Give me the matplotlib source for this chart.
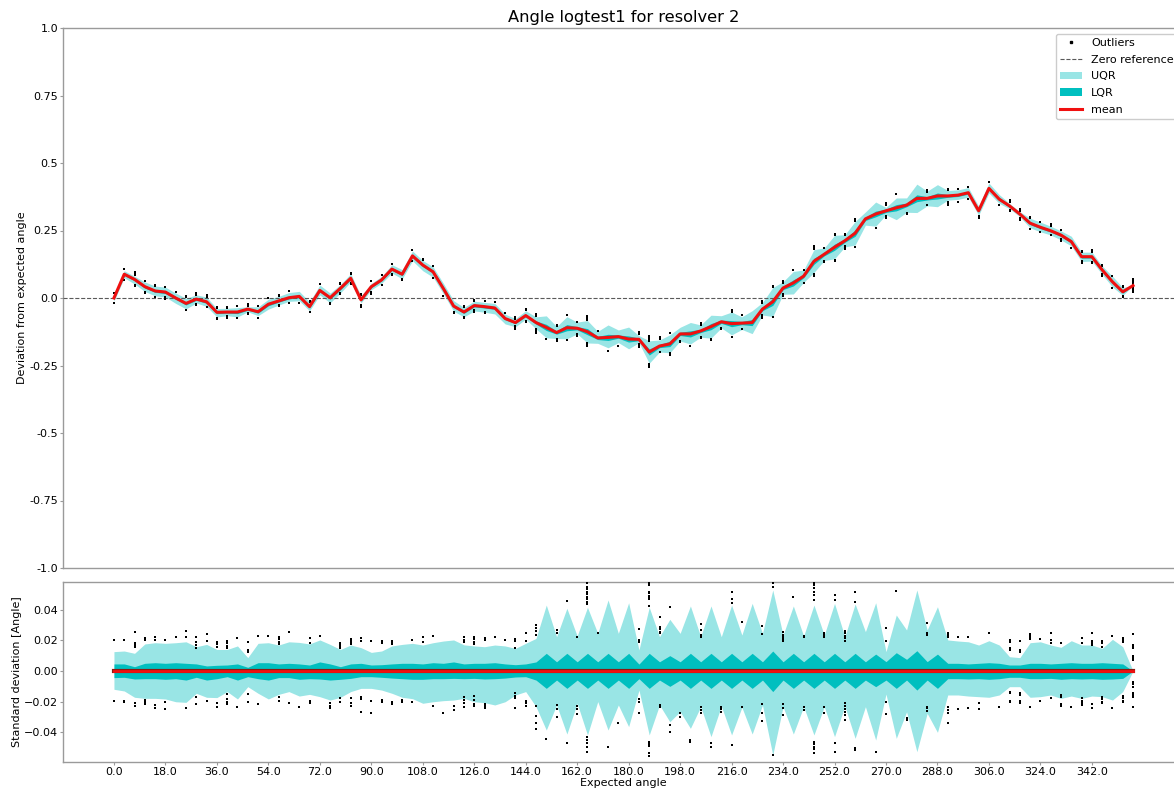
import numpy as np
import matplotlib
matplotlib.use("Agg")
import matplotlib.pyplot as plt
from matplotlib.lines import Line2D
from matplotlib.patches import Patch

# ---------------------------------------------------------------- data
step = 3.6
n_points = 100
angles = np.arange(n_points) * step

mean_dev = [
    0.000, 0.088, 0.069, 0.042, 0.026, 0.022, 0.000, -0.020, -0.004, -0.014,
    -0.053, -0.052, -0.052, -0.041, -0.051, -0.023, -0.011, 0.001, 0.006, -0.032,
    0.028, 0.001, 0.036, 0.073, -0.007, 0.042, 0.067, 0.107, 0.088, 0.156,
    0.122, 0.097, 0.035, -0.030, -0.052, -0.028, -0.032, -0.037, -0.076, -0.091,
    -0.065, -0.091, -0.109, -0.128, -0.110, -0.112, -0.125, -0.148, -0.146, -0.143,
    -0.152, -0.153, -0.200, -0.178, -0.170, -0.133, -0.133, -0.122, -0.106, -0.088,
    -0.095, -0.093, -0.091, -0.041, -0.014, 0.037, 0.056, 0.081, 0.136, 0.162,
    0.188, 0.212, 0.240, 0.293, 0.311, 0.323, 0.334, 0.344, 0.369, 0.369,
    0.378, 0.378, 0.381, 0.390, 0.323, 0.406, 0.366, 0.341, 0.311, 0.277,
    0.262, 0.249, 0.233, 0.209, 0.153, 0.153, 0.104, 0.060, 0.023, 0.046,
]

uqr_hi = [
    .0126, .0130, .0115, .0176, .0184, .0180, .0184, .0190, .0158, .0173,
    .0140, .0140, .0163, .0087, .0180, .0184, .0169, .0190, .0186, .0176,
    .0202, .0173, .0140, .0169, .0152, .0121, .0130, .0163, .0173, .0180,
    .0169, .0184, .0195, .0202, .0170, .0163, .0158, .0169, .0163, .0147,
    .0180, .0212, .0429, .0223, .0408, .0228, .0414, .0245, .0462, .0245,
    .0444, .0137, .0414, .0223, .0336, .0245, .0423, .0223, .0423, .0223,
    .0429, .0234, .0440, .0245, .0527, .0234, .0423, .0228, .0429, .0234,
    .0440, .0223, .0436, .0256, .0444, .0126, .0364, .0267, .0527, .0267,
    .0418, .0202, .0195, .0190, .0169, .0197, .0169, .0093, .0087, .0184,
    .0190, .0169, .0154, .0197, .0169, .0169, .0147, .0206, .0158, 0.0,
]

uqr_lo = [
    -.0119, -.0130, -.0171, -.0178, -.0178, -.0182, -.0200, -.0204, -.0145, -.0171,
    -.0173, -.0134, -.0182, -.0102, -.0145, -.0182, -.0152, -.0134, -.0163, -.0152,
    -.0167, -.0189, -.0171, -.0134, -.0113, -.0113, -.0124, -.0145, -.0171, -.0180,
    -.0210, -.0200, -.0193, -.0189, -.0178, -.0200, -.0206, -.0221, -.0200, -.0156,
    -.0134, -.0232, -.0384, -.0221, -.0410, -.0210, -.0416, -.0199, -.0384, -.0221,
    -.0362, -.0124, -.0416, -.0221, -.0330, -.0264, -.0373, -.0232, -.0427, -.0228,
    -.0416, -.0236, -.0410, -.0221, -.0546, -.0232, -.0410, -.0232, -.0416, -.0232,
    -.0427, -.0228, -.0438, -.0232, -.0449, -.0150, -.0438, -.0265, -.0525, -.0275,
    -.0399, -.0156, -.0156, -.0163, -.0167, -.0171, -.0156, -.0102, -.0102, -.0171,
    -.0167, -.0156, -.0178, -.0163, -.0178, -.0163, -.0167, -.0189, -.0134, 0.0,
]

lqr_hi = [
    .0046, .0046, .0028, .0050, .0054, .0050, .0054, .0050, .0046, .0033,
    .0037, .0039, .0046, .0024, .0054, .0054, .0046, .0050, .0046, .0039,
    .0059, .0046, .0028, .0046, .0050, .0039, .0041, .0046, .0050, .0050,
    .0046, .0054, .0050, .0059, .0046, .0050, .0050, .0054, .0046, .0041,
    .0046, .0059, .0115, .0060, .0115, .0060, .0115, .0060, .0115, .0060,
    .0115, .0045, .0115, .0060, .0100, .0060, .0115, .0060, .0115, .0060,
    .0115, .0060, .0115, .0060, .0130, .0060, .0115, .0060, .0115, .0060,
    .0115, .0060, .0115, .0060, .0110, .0061, .0119, .0076, .0132, .0061,
    .0110, .0050, .0050, .0046, .0050, .0054, .0050, .0039, .0039, .0050,
    .0050, .0046, .0050, .0054, .0050, .0050, .0054, .0050, .0046, 0.0,
]

lqr_lo = [
    -.0043, -.0041, -.0052, -.0050, -.0050, -.0054, -.0050, -.0059, -.0041, -.0059,
    -.0050, -.0037, -.0059, -.0037, -.0050, -.0059, -.0043, -.0043, -.0054, -.0050,
    -.0052, -.0059, -.0054, -.0048, -.0037, -.0037, -.0041, -.0046, -.0050, -.0054,
    -.0054, -.0050, -.0050, -.0048, -.0050, -.0048, -.0052, -.0050, -.0046, -.0039,
    -.0037, -.0059, -.0113, -.0059, -.0113, -.0059, -.0113, -.0059, -.0113, -.0059,
    -.0113, -.0050, -.0113, -.0059, -.0100, -.0059, -.0113, -.0059, -.0113, -.0059,
    -.0113, -.0059, -.0113, -.0059, -.0134, -.0059, -.0113, -.0059, -.0113, -.0059,
    -.0113, -.0059, -.0113, -.0059, -.0102, -.0059, -.0113, -.0059, -.0124, -.0059,
    -.0113, -.0050, -.0050, -.0052, -.0050, -.0054, -.0050, -.0041, -.0041, -.0050,
    -.0050, -.0048, -.0054, -.0050, -.0052, -.0050, -.0054, -.0052, -.0048, 0.0,
]

# outlying samples, keyed by sample index, as deviation from the mean
outliers_hi = {
    0: [.0202], 1: [.0202], 2: [.0256, .0184, .0169, .0158], 3: [.0212, .0202],
    4: [.0223, .0202], 5: [.0202], 6: [.0219], 7: [.0262, .0219],
    8: [.0219, .0191, .0169, .0152], 9: [.0241, .0195], 10: [.0191, .0173, .0158],
    11: [.0195, .0180, .0163, .0147], 12: [.0212], 13: [.0186, .0137, .0126],
    14: [.0230], 15: [.0228], 16: [.0223, .0206, .0191, .0173], 17: [.0252],
    19: [.0212, .0184], 20: [.0228], 22: [.0184, .0169, .0158, .0147],
    23: [.0206, .0195, .0184, .0173], 24: [.0212, .0197], 25: [.0195],
    26: [.0195, .0184], 27: [.0195, .0184, .0173], 29: [.0202], 30: [.0219, .0191],
    31: [.0228], 34: [.0219, .0202, .0191], 35: [.0219, .0206, .0191, .0173],
    36: [.0212, .0202], 37: [.0223], 38: [.0202], 39: [.0206, .0195, .0147],
    40: [.0245, .0195], 41: [.0299, .0278, .0262, .0234], 43: [.0267, .0245],
    44: [.0455], 45: [.0223],
    46: [.0570, .0549, .0531, .0516, .0501, .0484, .0468, .0451, .0434],
    47: [.0245], 51: [.0271, .0202, .0186],
    52: [.0575, .0559, .0516, .0505, .0490, .0479, .0466, .0423],
    53: [.0353, .0288, .0271, .0256, .0245], 54: [.0418],
    57: [.0306, .0267, .0234, .0223], 60: [.0512, .0466, .0440], 61: [.0317],
    63: [.0295, .0241], 64: [.0575, .0549], 65: [.0256, .0234, .0219, .0206, .0195],
    66: [.0484], 67: [.0228, .0219], 68: [.0575, .0559, .0538, .0516, .0494, .0462],
    69: [.0249, .0234, .0219], 70: [.0494, .0462],
    71: [.0262, .0245, .0228, .0212, .0197], 72: [.0516, .0451], 75: [.0277, .0197],
    76: [.0520], 79: [.0310, .0249, .0234], 81: [.0245, .0234, .0219], 82: [.0219],
    83: [.0223], 85: [.0249], 87: [.0202, .0191, .0147, .0137],
    88: [.0195, .0137, .0126], 89: [.0241, .0228, .0212, .0206], 90: [.0206],
    91: [.0249, .0202, .0184], 92: [.0180], 94: [.0212, .0180],
    95: [.0245, .0195, .0184, .0169], 96: [.0195, .0180, .0158], 97: [.0228],
    98: [.0212, .0202, .0191], 99: [.0239, .0169, .0158, .0147, .0098, .0082, .0072],
}

outliers_lo = {
    0: [-.0195], 1: [-.0195, -.0204], 2: [-.0210, -.0228], 3: [-.0189, -.0199, -.0217],
    4: [-.0221, -.0239], 5: [-.0199, -.0249], 7: [-.0243], 8: [-.0167, -.0215],
    9: [-.0193], 10: [-.0206, -.0232], 11: [-.0152, -.0184, -.0199, -.0215],
    12: [-.0236], 13: [-.0150, -.0199], 14: [-.0215], 16: [-.0167, -.0193],
    17: [-.0206], 18: [-.0236], 19: [-.0193, -.0206], 21: [-.0206, -.0228, -.0243],
    22: [-.0173, -.0204], 23: [-.0178, -.0210, -.0225], 24: [-.0171, -.0182, -.0265],
    25: [-.0193, -.0275], 26: [-.0189, -.0199], 27: [-.0199, -.0215],
    28: [-.0189, -.0199], 29: [-.0199], 31: [-.0228], 32: [-.0271],
    33: [-.0228, -.0254], 34: [-.0171, -.0189, -.0210, -.0232],
    35: [-.0163, -.0189, -.0215, -.0228], 36: [-.0215, -.0228, -.0239],
    39: [-.0141, -.0163, -.0178, -.0243], 40: [-.0193, -.0206, -.0228],
    41: [-.0228, -.0293, -.0336, -.0379], 42: [-.0444], 43: [-.0221, -.0249, -.0297],
    44: [-.0466], 45: [-.0228, -.0249, -.0280],
    46: [-.0427, -.0449, -.0470, -.0492, -.0525], 48: [-.0497], 49: [-.0336],
    51: [-.0184, -.0199, -.0275], 52: [-.0460, -.0475, -.0488, -.0536, -.0553],
    53: [-.0221, -.0236], 54: [-.0351, -.0395], 55: [-.0271, -.0301],
    56: [-.0449, -.0464], 57: [-.0236, -.0254, -.0275], 58: [-.0466, -.0492],
    59: [-.0232, -.0247, -.0265], 60: [-.0481], 61: [-.0236],
    63: [-.0215, -.0275, -.0323], 64: [-.0546], 65: [-.0215, -.0243, -.0286],
    67: [-.0236, -.0254], 68: [-.0460, -.0475, -.0492, -.0510, -.0531],
    69: [-.0236, -.0271], 70: [-.0470, -.0525],
    71: [-.0206, -.0228, -.0249, -.0265, -.0286, -.0319], 72: [-.0503, -.0514],
    74: [-.0525], 75: [-.0199, -.0282], 77: [-.0308, -.0319],
    79: [-.0232, -.0243, -.0258], 81: [-.0232, -.0254, -.0271, -.0336],
    82: [-.0249], 83: [-.0239], 84: [-.0206, -.0249], 86: [-.0232],
    87: [-.0134, -.0145, -.0193, -.0204], 88: [-.0141, -.0156, -.0193, -.0206],
    89: [-.0232], 90: [-.0193], 91: [-.0173], 92: [-.0156, -.0171, -.0215, -.0228],
    93: [-.0232], 94: [-.0178, -.0193, -.0206, -.0221], 95: [-.0215, -.0239],
    96: [-.0167, -.0182, -.0199, -.0210], 97: [-.0243],
    98: [-.0163, -.0178, -.0193, -.0204],
    99: [-.0069, -.0085, -.0102, -.0145, -.0156, -.0167, -.0232],
}

top_yticks = [-1.0, -0.75, -0.5, -0.25, 0.0, 0.25, 0.5, 0.75, 1.0]
top_yticklabels = ["-1.0", "-0.75", "-0.5", "-0.25", "0.0", "0.25", "0.5", "0.75", "1.0"]
xtick_step = 18.0

# ---------------------------------------------------------------- derived arrays
mean_dev = np.array(mean_dev)
uqr_hi, uqr_lo = np.array(uqr_hi), np.array(uqr_lo)
lqr_hi, lqr_lo = np.array(lqr_hi), np.array(lqr_lo)

out_idx, out_dev = [], []
for table in (outliers_hi, outliers_lo):
    for i, vals in table.items():
        out_idx += [i] * len(vals)
        out_dev += vals
out_idx = np.array(out_idx)
out_dev = np.array(out_dev)
out_x = angles[out_idx]

# ---------------------------------------------------------------- style
UQR_COLOR = "#99e5e5"
LQR_COLOR = "#00bfbf"
MEAN_COLOR = "#f01010"
SPINE_COLOR = "#9a9a9a"
FS = 8

plt.rcParams["font.family"] = "DejaVu Sans"

W, H = 1174, 790
fig = plt.figure(figsize=(W / 100, H / 100), dpi=100)
left, right = 63, 1184
ax1 = fig.add_axes([left / W, (H - 568) / H, (right - left) / W, 540 / H])
ax2 = fig.add_axes([left / W, (H - 762) / H, (right - left) / W, 180 / H])

span = angles[-1] - angles[0]
xlim = (angles[0] - 0.05 * span, angles[-1] + 0.05 * span)

for ax in (ax1, ax2):
    for s in ax.spines.values():
        s.set_color(SPINE_COLOR)
        s.set_linewidth(1.0)
    ax.tick_params(colors=SPINE_COLOR, labelcolor="black", labelsize=FS,
                   length=2.4, pad=1.2)
    ax.set_xlim(*xlim)

# ---------------------------------------------------------------- top panel
ax1.fill_between(angles, mean_dev + uqr_lo, mean_dev + uqr_hi, color=UQR_COLOR, lw=0, zorder=1)
ax1.fill_between(angles, mean_dev + lqr_lo, mean_dev + lqr_hi, color=LQR_COLOR, lw=0, zorder=2)
ax1.axhline(0.0, color="0.35", lw=0.8, ls="--", zorder=3)
ax1.scatter(out_x, mean_dev[out_idx] + out_dev, s=2.2, c="black", marker="s", lw=0, zorder=4)
ax1.plot(angles, mean_dev, color=MEAN_COLOR, lw=2.2, zorder=5)

ax1.set_ylim(-1.0, 1.0)
ax1.set_yticks(top_yticks)
ax1.set_yticklabels(top_yticklabels)
ax1.tick_params(axis="x", bottom=False, labelbottom=False)
ax1.set_ylabel("Deviation from expected angle", fontsize=FS, labelpad=1.5)
ax1.set_title("Angle logtest1 for resolver 2", fontsize=11.7, pad=4)

handles = [
    Line2D([], [], ls="none", marker="s", ms=1.5, color="black"),
    Line2D([], [], ls="--", lw=0.8, color="0.35"),
    Patch(facecolor=UQR_COLOR, edgecolor="none"),
    Patch(facecolor=LQR_COLOR, edgecolor="none"),
    Line2D([], [], color=MEAN_COLOR, lw=2.2),
]
labels = ["Outliers", "Zero reference", "UQR", "LQR", "mean"]
ax1.legend(handles, labels, loc="upper right", fontsize=FS, framealpha=1.0,
           edgecolor="0.8", labelspacing=0.6)

# ---------------------------------------------------------------- bottom panel
ax2.fill_between(angles, uqr_lo, uqr_hi, color=UQR_COLOR, lw=0, zorder=1)
ax2.fill_between(angles, lqr_lo, lqr_hi, color=LQR_COLOR, lw=0, zorder=2)
ax2.scatter(out_x, out_dev, s=2.2, c="black", marker="s", lw=0, zorder=4)
ax2.plot(angles, np.zeros_like(angles), color="#8a1a10", lw=3.0, zorder=5)
ax2.plot(angles, np.zeros_like(angles), color=MEAN_COLOR, lw=2.0, zorder=6)

ax2.set_ylim(-0.0592, 0.0579)
ax2.set_yticks([-0.04, -0.02, 0.0, 0.02, 0.04])
xt = np.arange(0.0, angles[-1], xtick_step)
ax2.set_xticks(xt)
ax2.set_xticklabels([f"{v:.1f}" for v in xt])
ax2.set_xlabel("Expected angle", fontsize=FS, labelpad=1)
ax2.set_ylabel("Standard deviation [Angle]", fontsize=FS, labelpad=1.5)

fig.savefig("out.png", dpi=100)
